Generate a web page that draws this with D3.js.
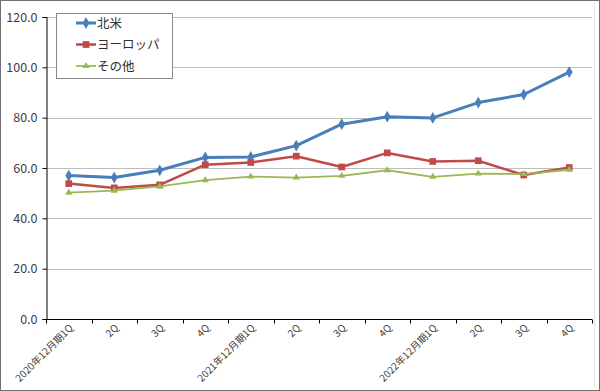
<!DOCTYPE html>
<html><head><meta charset="utf-8">
<script src="https://cdn.jsdelivr.net/npm/d3@7/dist/d3.min.js"></script>
<style>body{margin:0;background:#fff}svg{display:block}</style>
</head><body>
<script>
const categories = ["2020年12月期1Q","2Q","3Q","4Q","2021年12月期1Q","2Q","3Q","4Q","2022年12月期1Q","2Q","3Q","4Q"];
const seriesNames = ["北米","ヨーロッパ","その他"];
const northAmerica = [57.0, 56.2, 59.1, 64.2, 64.4, 68.9, 77.4, 80.4, 79.9, 86.0, 89.2, 98.1];
const europe       = [53.8, 52.1, 53.3, 61.3, 62.2, 64.7, 60.4, 66.0, 62.6, 62.9, 57.2, 60.2];
const others       = [50.2, 51.0, 52.7, 55.2, 56.6, 56.2, 56.9, 59.1, 56.5, 57.8, 57.6, 59.3];
const yTicks = [0, 20, 40, 60, 80, 100, 120];

const W = 600, H = 391;
const m = {left: 46, right: 8, top: 17, bottom: 72};
const svg = d3.select("body").append("svg").attr("width", W).attr("height", H);
const font = "'Noto Sans CJK JP', 'DejaVu Sans', sans-serif";

svg.append("rect").attr("x", 0.5).attr("y", 0.5).attr("width", W - 1).attr("height", H - 1)
  .attr("fill", "#fff").attr("stroke", "#6f6f6f");
svg.append("line").attr("x1", 594.5).attr("x2", 594.5).attr("y1", 3).attr("y2", H - 3)
  .attr("stroke", "#e6e6e6");

const idx = categories.map((c, i) => i);
const x = d3.scaleBand().domain(idx).range([m.left, W - m.right]);
const y = d3.scaleLinear().domain([0, 120]).range([H - m.bottom, m.top]);

// gridlines
svg.append("g").selectAll("line").data(yTicks.filter(d => d > 0)).join("line")
  .attr("x1", m.left).attr("x2", W - m.right)
  .attr("y1", d => Math.round(y(d)) + 0.5).attr("y2", d => Math.round(y(d)) + 0.5)
  .attr("stroke", "#bdbdbd").attr("stroke-width", 1);

// y axis
const yAxis = svg.append("g").attr("transform", `translate(${m.left + 0.5},0)`)
  .call(d3.axisLeft(y).tickValues(yTicks).tickFormat(d3.format(".1f")).tickSize(4).tickPadding(5));
yAxis.selectAll("text").attr("font-family", font).attr("font-size", 12.5).attr("fill", "#404040");
yAxis.select(".domain").attr("stroke", "#000");
yAxis.selectAll(".tick line").attr("stroke", "#000");

// x axis
const xTickPos = idx.map(i => x(i)).concat([W - m.right]);
const xg = svg.append("g").attr("transform", `translate(0,${Math.round(y(0)) + 0.5})`);
xg.append("line").attr("x1", m.left).attr("x2", W - m.right).attr("stroke", "#000");
xg.selectAll("line.tk").data(xTickPos).join("line").attr("class", "tk")
  .attr("x1", d => Math.round(d) + 0.5).attr("x2", d => Math.round(d) + 0.5)
  .attr("y1", 0).attr("y2", 4).attr("stroke", "#000");
xg.selectAll("text").data(idx).join("text")
  .attr("transform", i => `translate(${x(i) + x.bandwidth() / 2 + 5},${9}) rotate(-45)`)
  .attr("text-anchor", "end").attr("font-family", font).attr("font-size", 10)
  .attr("fill", "#404040").text(i => categories[i]);

// series
const series = [
  {name: seriesNames[0], values: northAmerica, color: "#4a7ebb", width: 3, marker: d3.symbolDiamond, size: 40},
  {name: seriesNames[1], values: europe, color: "#be4b48", width: 2.5, marker: d3.symbolSquare, size: 45},
  {name: seriesNames[2], values: others, color: "#98b954", width: 1.8, marker: d3.symbolTriangle, size: 22}
];
const cx = i => x(i) + x.bandwidth() / 2;
const line = d3.line().x((d, i) => cx(i)).y(d => y(d));
series.forEach(s => {
  svg.append("path").datum(s.values).attr("d", line).attr("fill", "none")
    .attr("stroke", s.color).attr("stroke-width", s.width).attr("stroke-linejoin", "round");
  svg.append("g").selectAll("path").data(s.values).join("path")
    .attr("d", d3.symbol().type(s.marker).size(s.size))
    .attr("transform", (d, i) => `translate(${cx(i)},${y(d)})`)
    .attr("fill", s.color);
});

// legend
const lg = svg.append("g");
lg.append("rect").attr("x", 56.5).attr("y", 13.5).attr("width", 116).attr("height", 65)
  .attr("fill", "#fff").attr("stroke", "#888");
series.forEach((s, i) => {
  const yy = 23 + i * 21.5;
  lg.append("line").attr("x1", 76).attr("x2", 96).attr("y1", yy).attr("y2", yy)
    .attr("stroke", s.color).attr("stroke-width", s.width);
  lg.append("path").attr("d", d3.symbol().type(s.marker).size(s.size)())
    .attr("transform", `translate(86,${yy})`).attr("fill", s.color);
  lg.append("text").attr("x", 97).attr("y", yy + 4.5).attr("font-family", font)
    .attr("font-size", 12.5).attr("fill", "#303030").text(s.name);
});
</script>
</body></html>
